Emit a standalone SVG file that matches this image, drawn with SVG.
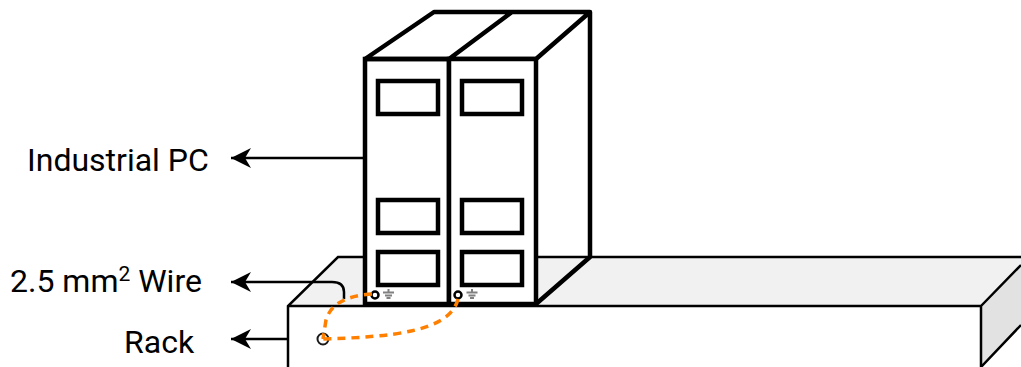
<svg xmlns="http://www.w3.org/2000/svg" width="1021" height="367" viewBox="0 0 1021 367">
<defs>
<marker id="ah" markerUnits="userSpaceOnUse" markerWidth="21" markerHeight="20" refX="20" refY="10" orient="auto"><path d="M20 10 L0 0 L6 10 L0 20 Z" fill="#000"/></marker>
</defs>
<style>
.l{fill:none;stroke:#000;stroke-width:2.500}
.t{fill:none;stroke:#000;stroke-width:4.500;stroke-linejoin:round}
.w{fill:#fff;stroke:#000;stroke-width:4.500;stroke-linejoin:miter}
.txt{font-family:Roboto,"Liberation Sans",sans-serif;font-size:32px;fill:#000}
.d{fill:none;stroke:#ff8000;stroke-width:3.500;stroke-dasharray:8 6}
.g{stroke:#808080;stroke-width:2;fill:none}
</style>
<g id="rack">
<path d="M338 257 H1021 V264 L981 306 H288 Z" fill="#f1f1f1"/>
<path d="M981 306 L1021 264 V325 L981 367 Z" fill="#e2e2e2"/>
<path d="M1021 257 H338 L288 306 V367 M288 306 H981 V367 M981 306 L1021 265 M981 367 L1021 325" fill="none" stroke="#000" stroke-width="2.500"/>
</g>
<g id="pc1">
<rect class="w" x="365" y="59" width="84" height="245"/>
<rect class="w" x="378" y="81" width="60" height="33"/>
<rect class="w" x="378" y="200" width="60" height="33"/>
<rect class="w" x="378" y="252" width="60" height="33"/>
<circle cx="375" cy="295" r="3.500" fill="#fff" stroke="#000" stroke-width="2.500"/>
<path class="g" d="M388.500 289 V292 M383 292.500 H394 M385 295.500 H392 M386.500 298 H390.500"/>
</g>
<g id="pc2">
<path class="t" d="M365 59 L434 12 H590 V257 L536 304 M449 59 L512 12 M536 59 L590 12 M365 59 H536"/>
<rect class="w" x="449" y="59" width="87" height="245"/>
<rect class="w" x="462" y="81" width="60" height="33"/>
<rect class="w" x="462" y="200" width="60" height="33"/>
<rect class="w" x="462" y="252" width="60" height="33"/>
<circle cx="458" cy="295" r="3.500" fill="#fff" stroke="#000" stroke-width="2.500"/>
<path class="g" d="M472 289 V292 M466.500 292.500 H477.500 M468.500 295.500 H475.500 M470 298 H474"/>
</g>
<g id="connectors">
<path class="l" d="M364 158 H231" marker-end="url(#ah)"/>
<path class="l" d="M344 299 V292 Q344 282 332 282 H231" marker-end="url(#ah)"/>
<path class="l" d="M288 339 H231" marker-end="url(#ah)"/>
<circle cx="323" cy="339" r="5.500" fill="#fff" stroke="#1a1a1a" stroke-width="2"/>
<path class="d" d="M372 294 C345 296 331 304 326 320 L323 339"/>
<path class="d" d="M458 299 C450 332 390 337 323 339"/>
</g>
<g id="labels">
<text class="txt" x="27" y="171">Industrial PC</text>
<text class="txt" x="10" y="292">2.5 mm<tspan font-size="21" dy="-11">2</tspan><tspan dy="11"> Wire</tspan></text>
<text class="txt" x="124" y="353">Rack</text>
</g>
</svg>
